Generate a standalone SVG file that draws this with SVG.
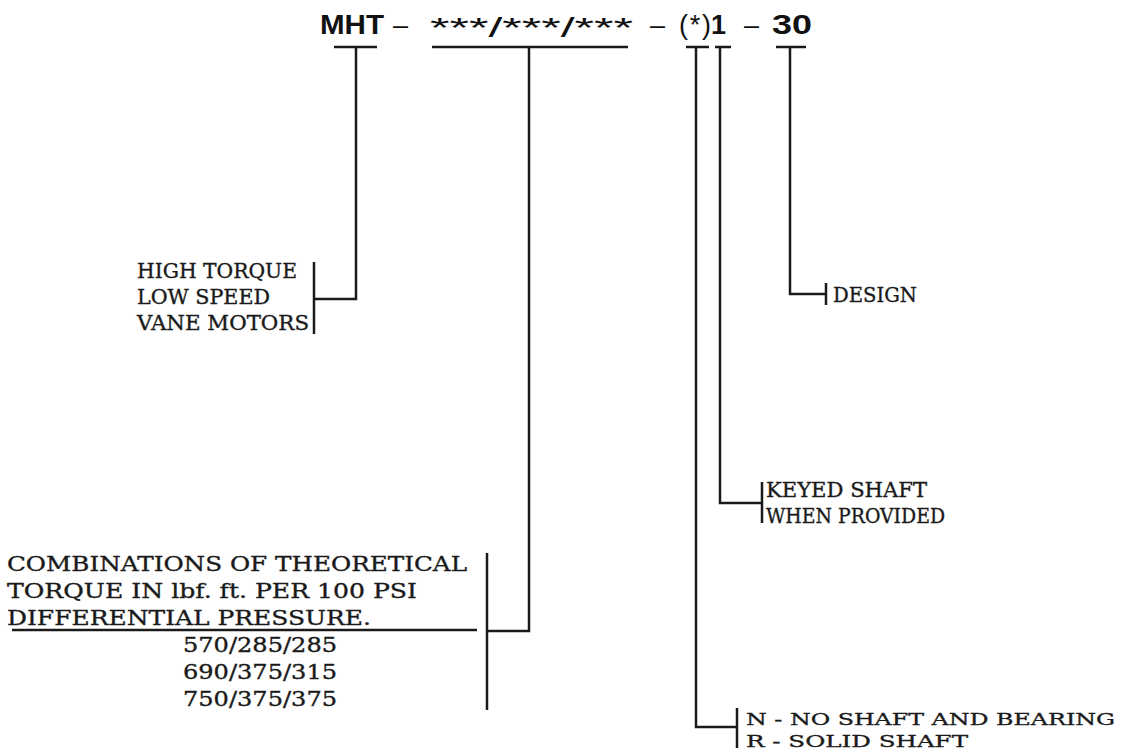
<svg xmlns="http://www.w3.org/2000/svg" width="1132" height="751" viewBox="0 0 1132 751">
<style>
.ln{fill:none;stroke:#1a1a1a;stroke-width:2.5;stroke-linecap:butt;stroke-linejoin:miter}
.hb{font-family:"Liberation Sans",Arial,sans-serif;font-weight:bold;font-size:27px;fill:#111}
.hr{font-family:"Liberation Sans",Arial,sans-serif;font-size:27px;fill:#111}
.sf{font-family:"DejaVu Serif","Liberation Serif",serif;font-size:20px;fill:#1a1a1a;stroke:#1a1a1a;stroke-width:0.35}
.sm{font-size:17.5px}
</style>
<rect width="1132" height="751" fill="#fff"/>
<g id="header">
<text class="hb" x="320" y="34" textLength="64" lengthAdjust="spacingAndGlyphs">MHT</text>
<text class="hr" x="393" y="34">–</text>
<text class="hr" x="430" y="37" textLength="203" lengthAdjust="spacingAndGlyphs" font-family="DejaVu Sans" font-size="32">***/***/***</text>
<text class="hr" x="650" y="34">–</text>
<text class="hr" x="679" y="34" textLength="32" lengthAdjust="spacing">(*)</text>
<text class="hb" x="711" y="34">1</text>
<text class="hr" x="744" y="34">–</text>
<text class="hb" x="772" y="34" textLength="40" lengthAdjust="spacingAndGlyphs">30</text>
</g>
<g id="connectors">
<path class="ln" d="M334 47H377M356 47V299H314M314 262V334"/>
<path class="ln" d="M432 47H628M529 47V631H487M487 553V710"/>
<path class="ln" d="M686 47H709M696 47V727H737M737 708V748"/>
<path class="ln" d="M715 47H731M720 47V503H762M762 482V523"/>
<path class="ln" d="M776 47H806M790 47V294H826M826 283V305"/>
<path class="ln" d="M12 630H477"/>
</g>
<g id="motors">
<text class="sf" x="137" y="278" textLength="160" lengthAdjust="spacingAndGlyphs">HIGH TORQUE</text>
<text class="sf" x="137" y="304" textLength="133" lengthAdjust="spacingAndGlyphs">LOW SPEED</text>
<text class="sf" x="137" y="330" textLength="172" lengthAdjust="spacingAndGlyphs">VANE MOTORS</text>
</g>
<g id="design">
<text class="sf" x="833" y="302" textLength="84" lengthAdjust="spacingAndGlyphs">DESIGN</text>
</g>
<g id="keyed">
<text class="sf" x="766" y="497" textLength="161" lengthAdjust="spacingAndGlyphs">KEYED SHAFT</text>
<text class="sf" x="766" y="523" textLength="179" lengthAdjust="spacingAndGlyphs">WHEN PROVIDED</text>
</g>
<g id="shaft">
<text class="sf sm" x="746" y="725" textLength="369" lengthAdjust="spacingAndGlyphs">N - NO SHAFT AND BEARING</text>
<text class="sf sm" x="746" y="747" textLength="222" lengthAdjust="spacingAndGlyphs">R - SOLID SHAFT</text>
</g>
<g id="combinations">
<text class="sf" x="7" y="571" textLength="460" lengthAdjust="spacingAndGlyphs">COMBINATIONS OF THEORETICAL</text>
<text class="sf" x="7" y="598" textLength="410" lengthAdjust="spacingAndGlyphs">TORQUE IN lbf. ft. PER 100 PSI</text>
<text class="sf" x="7" y="625" textLength="364" lengthAdjust="spacingAndGlyphs">DIFFERENTIAL PRESSURE.</text>
<text class="sf" x="183" y="652" textLength="154" lengthAdjust="spacingAndGlyphs">570/285/285</text>
<text class="sf" x="183" y="679" textLength="154" lengthAdjust="spacingAndGlyphs">690/375/315</text>
<text class="sf" x="183" y="706" textLength="154" lengthAdjust="spacingAndGlyphs">750/375/375</text>
</g>
</svg>
